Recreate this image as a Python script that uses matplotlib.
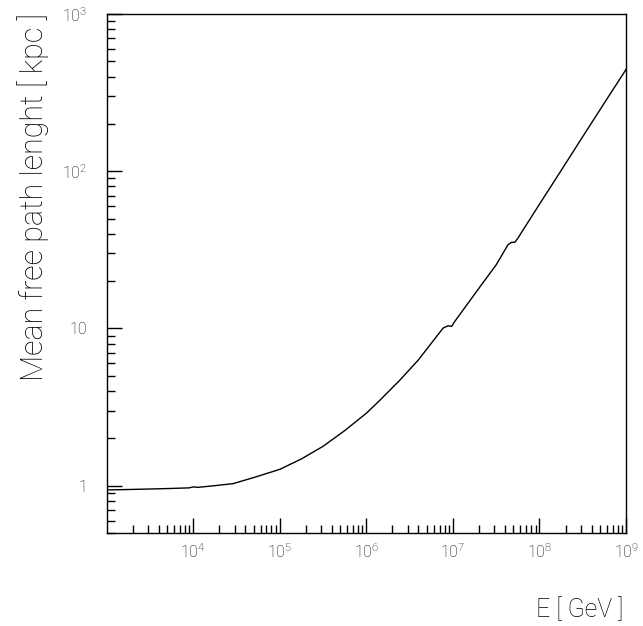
import numpy as np
import matplotlib
matplotlib.use("Agg")
import matplotlib.pyplot as plt
from matplotlib.ticker import FixedLocator, LogLocator, NullFormatter

plt.rcParams['font.family'] = ['Roboto', 'DejaVu Sans']
plt.rcParams['font.weight'] = 'light'
plt.rcParams['mathtext.fontset'] = 'custom'
plt.rcParams['mathtext.rm'] = 'Roboto:light'

# curve: log10(E/GeV) and mean free path (kpc)
log_e = [3.0, 3.25, 3.5, 3.75, 3.95, 4.0, 4.05, 4.25, 4.46, 4.73, 5.0, 5.25,
         5.5, 5.75, 6.0, 6.16, 6.39, 6.6, 6.887, 6.945, 6.984, 7.022, 7.3,
         7.5, 7.637, 7.677, 7.715, 7.753, 8.0, 8.25, 8.5, 8.75, 9.0]
mfp = [0.939, 0.945, 0.952, 0.960, 0.968, 0.982, 0.975, 1.0, 1.03, 1.14,
       1.27, 1.48, 1.78, 2.24, 2.89, 3.51, 4.71, 6.3, 10.06, 10.40, 10.30,
       11.09, 18.0, 25.4, 34.1, 35.3, 35.3, 37.7, 61.7, 101.0, 166.0, 272.0,
       444.0]

x_ticks = [1e4, 1e5, 1e6, 1e7, 1e8, 1e9]
x_labels = [r'$\mathregular{10^{%d}}$' % i for i in range(4, 10)]
y_ticks = [1, 10, 100, 1000]
y_labels = ['1', '10', r'$\mathregular{10^{2}}$', r'$\mathregular{10^{3}}$']

fig = plt.figure(figsize=(6.43, 6.26), dpi=100)
ax = fig.add_axes([0.166, 0.1486, 0.8076, 0.829])

ax.plot(10 ** np.array(log_e), mfp, color='black', lw=1.0)
ax.set_xscale('log')
ax.set_yscale('log')
ax.set_xlim(1e3, 1e9)
ax.set_ylim(0.5, 1000)

ax.xaxis.set_major_locator(FixedLocator(x_ticks))
ax.set_xticklabels(x_labels)
ax.yaxis.set_major_locator(FixedLocator(y_ticks))
ax.set_yticklabels(y_labels)
ax.xaxis.set_minor_locator(LogLocator(base=10, subs=np.arange(2, 10), numticks=20))
ax.yaxis.set_minor_locator(LogLocator(base=10, subs=np.arange(2, 10), numticks=20))
ax.xaxis.set_minor_formatter(NullFormatter())
ax.yaxis.set_minor_formatter(NullFormatter())

ax.tick_params(which='both', direction='in', top=False, right=False,
               labelsize=11.5, width=1.0, color='black')
ax.tick_params(which='major', length=11)
ax.tick_params(which='minor', length=6)
ax.tick_params(axis='x', pad=7)
ax.tick_params(axis='y', pad=14)
for s in ax.spines.values():
    s.set_linewidth(1.0)

fig.text(623 / 643, 1 - 610 / 626, 'E [ GeV ]', ha='right', va='center', fontsize=18)
fig.text(33 / 643, 1 - 13 / 626, 'Mean free path lenght [ kpc ]', rotation=90,
         ha='center', va='top', fontsize=22)

fig.savefig('out.png', dpi=100)
